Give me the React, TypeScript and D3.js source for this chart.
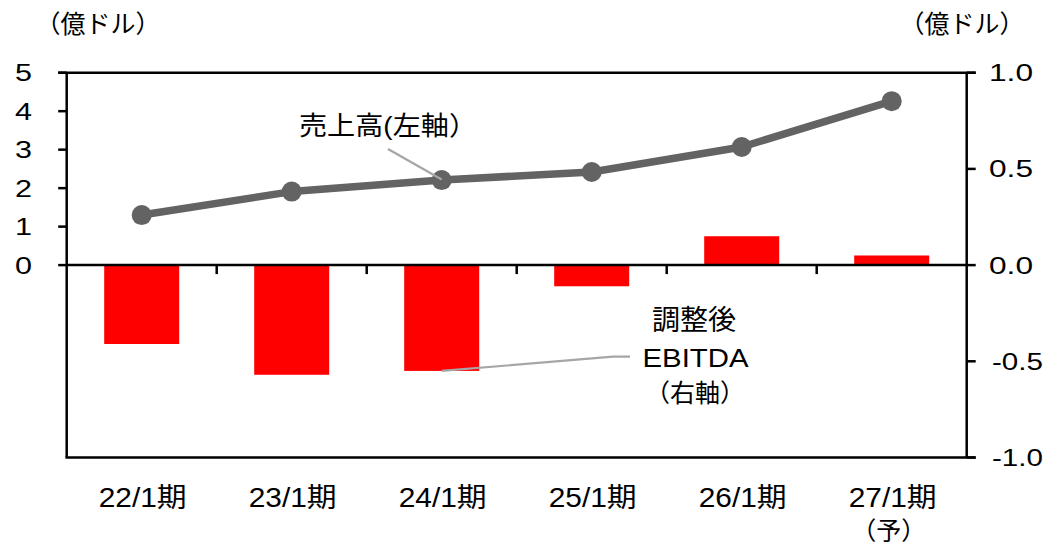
import React from "react";
import * as d3 from "d3";

const categories = ["22/1期", "23/1期", "24/1期", "25/1期", "26/1期", "27/1期"];
const sales = [1.3, 1.91, 2.21, 2.42, 3.07, 4.26];
const ebitda = [-0.41, -0.57, -0.55, -0.11, 0.15, 0.05];
const leftTicks = [0, 1, 2, 3, 4, 5];
const rightTicks = [-1.0, -0.5, 0.0, 0.5, 1.0];
const unitLabel = "（億ドル）";
const salesLabel = "売上高(左軸）";
const ebitdaLabel = ["調整後", "EBITDA", "（右軸）"];
const forecastLabel = "（予）";

const W = 1046;
const H = 548;
const x0 = 66.7;
const x1 = 966.7;
const yTop = 72.7;
const yBot = 457.5;
const FONT = "'Liberation Sans', Arial, 'Noto Sans CJK JP', sans-serif";
const CJK = "'Noto Sans CJK JP', 'Liberation Sans', sans-serif";

export default function App() {
  const x = d3.scaleBand<string>().domain(categories).range([x0, x1]).padding(0);
  const yL = d3.scaleLinear().domain([-5, 5]).range([yBot, yTop]);
  const yR = d3.scaleLinear().domain([-1, 1]).range([yBot, yTop]);
  const cx = (c: string) => (x(c) as number) + x.bandwidth() / 2;
  const barW = x.bandwidth() * 0.5;
  const zeroY = yR(0);

  const line = d3
    .line<number>()
    .x((_, i) => cx(categories[i]))
    .y((d) => yL(d));

  const sp = (i: number) => ({ x: cx(categories[i]), y: yL(sales[i]) });
  const ep = (i: number) => ({ x: cx(categories[i]), y: yR(ebitda[i]) });

  return (
    <svg
      width={W}
      height={H}
      style={{ position: "absolute", left: 0, top: 0, background: "#fff" }}
      fontFamily={FONT}
    >
      {/* bars */}
      {ebitda.map((v, i) => (
        <rect
          key={i}
          x={cx(categories[i]) - barW / 2}
          y={Math.min(yR(v), zeroY)}
          width={barW}
          height={Math.abs(yR(v) - zeroY)}
          fill="#FF0000"
        />
      ))}

      {/* frame */}
      <line x1={x0 - 8.5} x2={x1 + 9} y1={yTop} y2={yTop} stroke="#000" strokeWidth={2.5} />
      <line x1={x0 - 1.2} x2={x1 + 9} y1={yBot} y2={yBot} stroke="#000" strokeWidth={2.5} />
      <line x1={x0} x2={x0} y1={yTop} y2={yBot} stroke="#000" strokeWidth={2.5} />
      <line x1={x1} x2={x1} y1={yTop} y2={yBot} stroke="#000" strokeWidth={2.5} />
      <line x1={x0} x2={x1} y1={zeroY} y2={zeroY} stroke="#000" strokeWidth={2.5} />

      {/* left ticks */}
      {leftTicks.map((t) => (
        <g key={"l" + t}>
          <line x1={x0 - 8.5} x2={x0} y1={yL(t)} y2={yL(t)} stroke="#000" strokeWidth={2.5} />
          <text
            x={32}
            y={yL(t) + 8.5}
            fontSize={23}
            textAnchor="end"
            textLength={17}
            lengthAdjust="spacingAndGlyphs"
            fill="#000"
          >
            {t}
          </text>
        </g>
      ))}

      {/* right ticks */}
      {rightTicks.map((t) => {
        const s = t.toFixed(1);
        return (
          <g key={"r" + t}>
            <line x1={x1} x2={x1 + 9} y1={yR(t)} y2={yR(t)} stroke="#000" strokeWidth={2.5} />
            <text
              x={t < 0 ? 992 : 989}
              y={yR(t) + 8.5}
              fontSize={23}
              textAnchor="start"
              textLength={t < 0 ? 51 : 44}
              lengthAdjust="spacingAndGlyphs"
              fill="#000"
            >
              {s}
            </text>
          </g>
        );
      })}

      {/* category ticks */}
      {categories.slice(1).map((c) => (
        <line
          key={"ct" + c}
          x1={x(c) as number}
          x2={x(c) as number}
          y1={zeroY}
          y2={zeroY + 9}
          stroke="#000"
          strokeWidth={2.5}
        />
      ))}

      {/* category labels */}
      {categories.map((c) => (
        <text
          key={"cl" + c}
          x={cx(c) + 1}
          y={506.5}
          fontSize={27}
          textAnchor="middle"
          textLength={88}
          lengthAdjust="spacingAndGlyphs"
          fill="#000"
        >
          {c}
        </text>
      ))}
      <text x={cx(categories[5]) - 3} y={540} fontSize={25} fontFamily={CJK} textAnchor="middle" fill="#000">
        {forecastLabel}
      </text>

      {/* sales line */}
      <path d={line(sales) || ""} fill="none" stroke="#636363" strokeWidth={7.5} strokeLinejoin="round" />
      {sales.map((v, i) => (
        <circle key={"p" + i} cx={sp(i).x} cy={sp(i).y} r={10} fill="#636363" />
      ))}

      {/* leaders */}
      <polyline
        points={`${388},${149} ${sp(2).x},${sp(2).y - 0.5}`}
        fill="none"
        stroke="#A6A6A6"
        strokeWidth={2.2}
      />
      <polyline
        points={`${ep(2).x},${ep(2).y} ${613},${356.7} ${630},${356.7}`}
        fill="none"
        stroke="#A6A6A6"
        strokeWidth={2.2}
      />

      {/* annotations */}
      <text x={98} y={33} fontSize={25} fontFamily={CJK} textAnchor="middle" fill="#000">
        {unitLabel}
      </text>
      <text x={962} y={33} fontSize={25} fontFamily={CJK} textAnchor="middle" fill="#000">
        {unitLabel}
      </text>
      <text x={388} y={135} fontSize={26} textAnchor="middle" textLength={178} lengthAdjust="spacingAndGlyphs" fill="#000">
        {salesLabel}
      </text>
      <text x={694} y={330} fontSize={28} fontFamily={CJK} textAnchor="middle" fill="#000">
        {ebitdaLabel[0]}
      </text>
      <text x={695.5} y={366.5} fontSize={26} textAnchor="middle" textLength={106} lengthAdjust="spacingAndGlyphs" fill="#000">
        {ebitdaLabel[1]}
      </text>
      <text x={695} y={402} fontSize={25} fontFamily={CJK} textAnchor="middle" fill="#000">
        {ebitdaLabel[2]}
      </text>
    </svg>
  );
}
